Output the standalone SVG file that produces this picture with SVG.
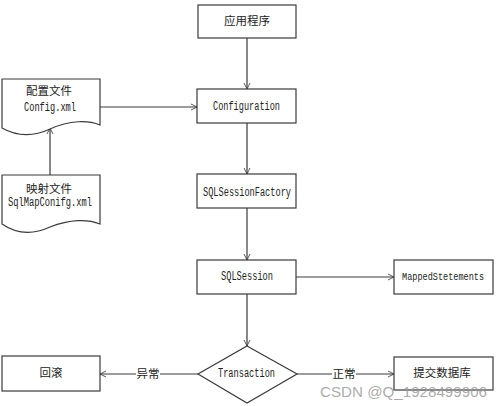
<svg xmlns="http://www.w3.org/2000/svg" width="499" height="406" viewBox="0 0 499 406">
<defs>
<style>
.box{fill:#fff;stroke:#3a3a3a;stroke-width:1.2}
.ln{fill:none;stroke:#3a3a3a;stroke-width:1.2}
.t{font-family:"Liberation Mono","Noto Sans CJK SC",monospace;font-size:12.5px;fill:#222;text-anchor:middle}
.s{font-size:10px}
.c{font-family:"Noto Sans CJK SC","Liberation Sans",sans-serif;font-size:11.5px;fill:#222;text-anchor:middle}
.wm{font-family:"Liberation Sans",sans-serif;font-size:15px;fill:#9a9a9a;fill-opacity:0.85}
</style>
<marker id="arr" viewBox="0 0 10 10" refX="10" refY="5" markerWidth="6" markerHeight="8" markerUnits="userSpaceOnUse" orient="auto">
<path d="M0,0 L10,5 L0,10" fill="none" stroke="#3a3a3a" stroke-width="1.4"/>
</marker>
</defs>
<rect width="499" height="406" fill="#fff"/>
<g id="connectors">
<line class="ln" x1="247" y1="38" x2="247" y2="89" marker-end="url(#arr)"/>
<line class="ln" x1="100" y1="107" x2="197" y2="107" marker-end="url(#arr)"/>
<line class="ln" x1="50" y1="175" x2="50" y2="128" marker-end="url(#arr)"/>
<line class="ln" x1="247" y1="123" x2="247" y2="174" marker-end="url(#arr)"/>
<line class="ln" x1="247" y1="208" x2="247" y2="260" marker-end="url(#arr)"/>
<line class="ln" x1="296" y1="277" x2="394" y2="277" marker-end="url(#arr)"/>
<line class="ln" x1="247" y1="294" x2="247" y2="346" marker-end="url(#arr)"/>
<line class="ln" x1="297" y1="374" x2="394" y2="374" marker-end="url(#arr)"/>
<line class="ln" x1="198" y1="374" x2="100" y2="374" marker-end="url(#arr)"/>
<rect x="332" y="366" width="24" height="16" fill="#fff"/>
<text class="c" x="344" y="378">正常</text>
<rect x="136" y="366" width="24" height="16" fill="#fff"/>
<text class="c" x="148" y="378">异常</text>
</g>
<g id="app">
<rect class="box" x="198" y="5" width="98" height="33"/>
<text class="c" x="247" y="25">应用程序</text>
</g>
<g id="configuration">
<rect class="box" x="197" y="89" width="99" height="34"/>
<text class="t" x="246.5" y="110" textLength="67" lengthAdjust="spacingAndGlyphs">Configuration</text>
</g>
<g id="configfile">
<path class="box" d="M2,79 H100 V125 C88,120 70,120 50,129 C35,136 18,137 2,128 Z"/>
<text class="c" x="49" y="95">配置文件</text>
<text class="t" x="50" y="111" textLength="52" lengthAdjust="spacingAndGlyphs">Config.xml</text>
</g>
<g id="mapfile">
<path class="box" d="M2,175 H100 V224 C88,219 70,219 50,227 C35,234 18,235 2,224 Z"/>
<text class="c" x="49" y="193">映射文件</text>
<text class="t" x="50" y="206" textLength="84" lengthAdjust="spacingAndGlyphs">SqlMapConifg.xml</text>
</g>
<g id="factory">
<rect class="box" x="197" y="174" width="99" height="34"/>
<text class="t" x="247" y="196" textLength="88" lengthAdjust="spacingAndGlyphs">SQLSessionFactory</text>
</g>
<g id="session">
<rect class="box" x="197" y="260" width="99" height="34"/>
<text class="t" x="247" y="280" textLength="52" lengthAdjust="spacingAndGlyphs">SQLSession</text>
</g>
<g id="mapped">
<rect class="box" x="394" y="260" width="99" height="34"/>
<text class="t s" x="443" y="280" textLength="82" lengthAdjust="spacingAndGlyphs">MappedStetements</text>
</g>
<g id="transaction">
<polygon class="box" points="247,346 297,374 247,403 198,374"/>
<text class="t" x="246.5" y="377" textLength="57" lengthAdjust="spacingAndGlyphs">Transaction</text>
</g>
<g id="commit">
<rect class="box" x="394" y="357" width="99" height="33"/>
<text class="c" x="442" y="377">提交数据库</text>
</g>
<g id="rollback">
<rect class="box" x="2" y="356" width="98" height="35"/>
<text class="c" x="51" y="377">回滚</text>
</g>
<text class="wm" x="320" y="397" textLength="167" lengthAdjust="spacingAndGlyphs">CSDN @Q_1928499906</text>
</svg>
